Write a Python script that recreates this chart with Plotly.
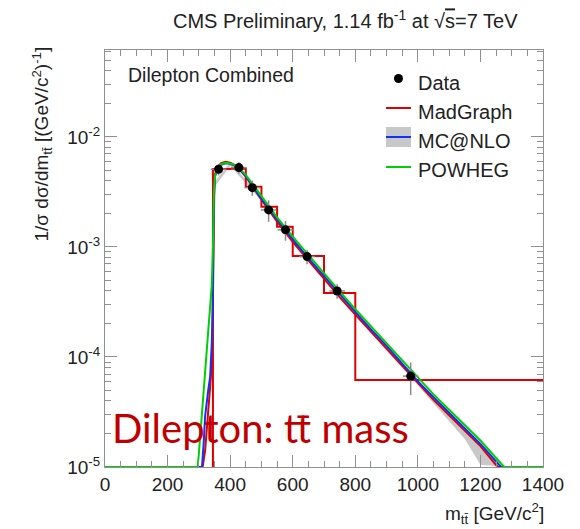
import plotly.graph_objects as go

# ---------------- data ----------------
data_m = [363, 428, 471, 523, 577, 646, 742, 977]
data_y = [5.08e-3, 5.26e-3, 3.46e-3, 2.17e-3, 1.43e-3, 8.17e-4, 3.98e-4, 6.7e-5]
data_ey = [6.1e-4, 6.3e-4, 5.5e-4, 4.8e-4, 2.9e-4, 1.2e-4, 6.0e-5, 2.2e-5]
data_ex = [25, 25, 25, 25, 25, 25, 25, 25]

mg_edges = [345, 400, 450, 500, 550, 600, 700, 800, 1400]
mg_hist = [5.1e-3, 5.15e-3, 3.53e-3, 2.32e-3, 1.53e-3, 8.28e-4, 3.82e-4, 6.18e-5]

mg_m = [0, 312, 320, 330, 338, 343, 345, 347, 350, 360, 370, 385, 400, 420, 450, 500,
        550, 600, 650, 700, 750, 800, 850, 900, 950, 1000, 1050, 1100, 1150, 1200, 1255, 1400]
mg_y = [1e-5, 1e-5, 1.41e-5, 3.16e-5, 6.3e-5, 1.26e-4, 5.0e-4, 2.5e-3, 4.47e-3, 5.25e-3,
        5.75e-3, 5.95e-3, 5.82e-3, 5.43e-3, 4.37e-3, 2.69e-3, 1.7e-3, 1.11e-3, 7.5e-4,
        5.07e-4, 3.5e-4, 2.43e-4, 1.7e-4, 1.19e-4, 8.3e-5, 5.75e-5, 4.07e-5, 2.95e-5,
        2.14e-5, 1.55e-5, 1e-5, 1e-5]

nlo_m = [0, 310, 315, 320, 330, 336, 341, 344, 346, 348, 352, 360, 370, 385, 400, 420, 450,
         500, 550, 600, 650, 700, 750, 800, 850, 900, 950, 1000, 1050, 1100, 1150, 1200, 1266, 1400]
nlo_y = [1e-5, 1e-5, 1.58e-5, 2.88e-5, 5.0e-5, 6.6e-5, 1.26e-4, 2.5e-4, 1.0e-3, 2.8e-3,
         4.4e-3, 5.1e-3, 5.55e-3, 5.75e-3, 5.7e-3, 5.4e-3, 4.4e-3, 2.75e-3, 1.78e-3,
         1.17e-3, 7.9e-4, 5.4e-4, 3.7e-4, 2.57e-4, 1.78e-4, 1.26e-4, 8.7e-5, 6.0e-5,
         4.3e-5, 3.1e-5, 2.24e-5, 1.62e-5, 1e-5, 1e-5]

band_m = [350, 400, 500, 600, 700, 800, 900, 1000, 1050, 1100, 1150, 1200, 1266, 1280]
band_hi = [3.9e-3, 5.9e-3, 2.85e-3, 1.21e-3, 5.6e-4, 2.66e-4, 1.3e-4, 6.2e-5, 4.4e-5,
           3.2e-5, 2.3e-5, 1.66e-5, 1.03e-5, 1.0e-5]
band_lo = [3.5e-3, 5.45e-3, 2.62e-3, 1.11e-3, 5.1e-4, 2.4e-4, 1.15e-4, 5.5e-5, 3.8e-5,
           2.65e-5, 1.8e-5, 1.05e-5, 1e-5, 1e-5]

pow_m = [0, 296, 300, 310, 320, 330, 341, 345, 348, 352, 360, 370, 385, 400, 420, 450, 500,
         550, 600, 650, 700, 750, 800, 850, 900, 950, 1000, 1050, 1100, 1150, 1200, 1276, 1400]
pow_y = [1e-5, 1e-5, 1.32e-5, 3.0e-5, 7.1e-5, 1.7e-4, 4.4e-4, 1.0e-3, 3.16e-3, 4.47e-3,
         5.25e-3, 5.62e-3, 5.82e-3, 5.75e-3, 5.5e-3, 4.52e-3, 2.88e-3, 1.86e-3, 1.24e-3,
         8.4e-4, 5.7e-4, 3.94e-4, 2.72e-4, 1.9e-4, 1.33e-4, 9.3e-5, 6.45e-5, 4.57e-5,
         3.31e-5, 2.4e-5, 1.74e-5, 1e-5, 1e-5]

x_ticks = [0, 200, 400, 600, 800, 1000, 1200, 1400]
y_ticks = [1e-5, 1e-4, 1e-3, 1e-2]
y_ticktext = ["10<sup>-5</sup>", "10<sup>-4</sup>", "10<sup>-3</sup>", "10<sup>-2</sup>"]

# ---------------- styling ----------------
FONT = "Liberation Sans, Arial, sans-serif"
RED = "#e00000"
BLUE = "#1030ff"
GREEN = "#00d000"
GREY = "#909090"

# plot area in pixels
L, R, T, B = 105, 37, 50, 62
W, H = 580, 529
PW, PH = W - L - R, H - T - B


def px(x):
    return (x - L) / PW


def py(y):
    return (H - B - y) / PH


fig = go.Figure()

# MC@NLO uncertainty band
fig.add_trace(go.Scatter(x=band_m, y=band_lo, mode="lines", line=dict(width=0, color="#c8c8c8"),
                         showlegend=False, hoverinfo="skip"))
fig.add_trace(go.Scatter(x=band_m, y=band_hi, mode="lines", line=dict(width=0, color="#c8c8c8"),
                         fill="tonexty", fillcolor="#c8c8c8", showlegend=False, hoverinfo="skip"))

# MadGraph curve
fig.add_trace(go.Scatter(x=mg_m, y=mg_y, mode="lines", line=dict(color=RED, width=2),
                         showlegend=False))

# MadGraph histogram (steps)
step_x = [mg_edges[0]] + mg_edges[:-1] + [mg_edges[-1]]
step_y = [1e-5] + mg_hist + [mg_hist[-1]]
fig.add_trace(go.Scatter(x=step_x, y=step_y, mode="lines", line=dict(color=RED, width=2, shape="hv"),
                         showlegend=False))

# MC@NLO
fig.add_trace(go.Scatter(x=nlo_m, y=nlo_y, mode="lines", line=dict(color=BLUE, width=2),
                         showlegend=False))
# POWHEG
fig.add_trace(go.Scatter(x=pow_m, y=pow_y, mode="lines", line=dict(color=GREEN, width=2),
                         showlegend=False))

# Data
fig.add_trace(go.Scatter(
    x=data_m, y=data_y, mode="markers",
    marker=dict(color="black", size=9),
    error_y=dict(type="data", array=data_ey, color="#8a8a8a", thickness=1.5, width=0),
    error_x=dict(type="data", array=data_ex, color="#8a8a8a", thickness=1.5, width=0),
    showlegend=False))

# ---------------- manual legend ----------------
shapes = []
shapes.append(dict(type="circle", xref="paper", yref="paper",
                   x0=px(394), x1=px(403), y0=py(83), y1=py(74),
                   fillcolor="black", line=dict(width=0)))
shapes.append(dict(type="line", xref="paper", yref="paper", x0=px(386), x1=px(411),
                   y0=py(108), y1=py(108), line=dict(color=RED, width=2)))
shapes.append(dict(type="rect", xref="paper", yref="paper", x0=px(386), x1=px(411),
                   y0=py(147), y1=py(127), fillcolor="#c8c8c8", line=dict(width=0)))
shapes.append(dict(type="line", xref="paper", yref="paper", x0=px(386), x1=px(411),
                   y0=py(137), y1=py(137), line=dict(color=BLUE, width=2)))
shapes.append(dict(type="line", xref="paper", yref="paper", x0=px(386), x1=px(411),
                   y0=py(167), y1=py(167), line=dict(color=GREEN, width=2)))

annotations = []
leg_items = [("Data", 83), ("MadGraph", 112), ("MC@NLO", 141), ("POWHEG", 170)]
for txt, yy in leg_items:
    annotations.append(dict(text=txt, x=px(416), y=py(yy), xref="paper", yref="paper",
                            xanchor="left", yanchor="middle", showarrow=False,
                            font=dict(family=FONT, size=20, color="#222")))

# title
annotations.append(dict(text="CMS Preliminary, 1.14 fb<sup>-1</sup> at √<span style='text-decoration:overline'>s</span>=7 TeV",
                        x=px(345), y=py(19), xref="paper", yref="paper",
                        xanchor="center", yanchor="middle", showarrow=False,
                        font=dict(family=FONT, size=20, color="#222")))
# Dilepton Combined
annotations.append(dict(text="Dilepton Combined", x=px(126), y=py(75), xref="paper", yref="paper",
                        xanchor="left", yanchor="middle", showarrow=False,
                        font=dict(family=FONT, size=19.5, color="#222")))
# big red caption
annotations.append(dict(text="Dilepton: tt\u0304 mass", x=px(110), y=py(428), xref="paper", yref="paper",
                        xanchor="left", yanchor="middle", showarrow=False,
                        font=dict(family="Lato, Open Sans, sans-serif", size=40, color="#c00000")))
# y title
annotations.append(dict(text="1/σ dσ/dm<sub>tt\u0304</sub> [(GeV/c<sup>2</sup>)<sup>-1</sup>]",
                        x=px(42), y=py(45), xref="paper", yref="paper",
                        xanchor="center", yanchor="top", textangle=-90, showarrow=False,
                        font=dict(family=FONT, size=19, color="#222")))
# x title
annotations.append(dict(text="m<sub>tt\u0304</sub> [GeV/c<sup>2</sup>]",
                        x=px(546), y=py(513), xref="paper", yref="paper",
                        xanchor="right", yanchor="middle", showarrow=False,
                        font=dict(family=FONT, size=19, color="#222")))

minor_y = []
for dec in [1e-5, 1e-4, 1e-3, 1e-2]:
    for k in range(2, 10):
        minor_y.append(k * dec)

fig.update_layout(
    width=W, height=H,
    margin=dict(l=L, r=R, t=T, b=B),
    paper_bgcolor="white", plot_bgcolor="white",
    showlegend=False,
    shapes=shapes, annotations=annotations,
    xaxis=dict(range=[0, 1400], tickmode="array", tickvals=x_ticks,
               ticks="inside", ticklen=12, tickcolor=GREY, tickwidth=1,
               showline=True, linecolor=GREY, linewidth=1, mirror="allticks",
               showgrid=False, zeroline=False,
               tickfont=dict(family=FONT, size=19, color="#222"),
               minor=dict(ticks="inside", dtick=50, tick0=0, ticklen=6, tickcolor=GREY, showgrid=False)),
    yaxis=dict(type="log", range=[-5, -1.21], tickmode="array", tickvals=y_ticks, ticktext=y_ticktext,
               ticks="inside", ticklen=12, tickcolor=GREY, tickwidth=1,
               showline=True, linecolor=GREY, linewidth=1, mirror="allticks",
               showgrid=False, zeroline=False,
               tickfont=dict(family=FONT, size=19, color="#222"),
               minor=dict(ticks="inside", tickmode="array", tickvals=minor_y, ticklen=6,
                          tickcolor=GREY, showgrid=False)),
)

fig.write_html("out.html")
